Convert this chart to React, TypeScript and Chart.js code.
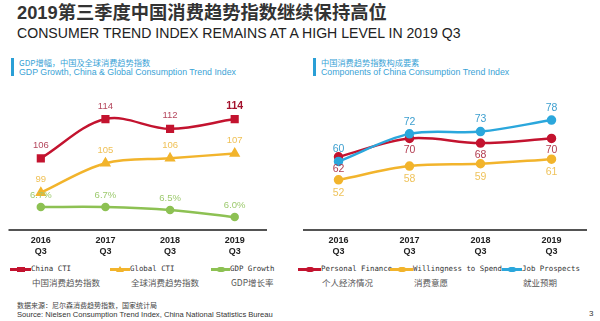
import React, { useEffect, useRef } from "react";
import { Chart, registerables } from "chart.js";
Chart.register(...registerables);

// ---------- data ----------
const quarters = [["2016", "Q3"], ["2017", "Q3"], ["2018", "Q3"], ["2019", "Q3"]];
const chinaCTI = [106, 114, 112, 114];
const globalCTI = [99, 105, 106, 107];
const gdpGrowth = [6.7, 6.7, 6.5, 6.0];
const personalFinance = [62, 70, 68, 70];
const willingnessToSpend = [52, 58, 59, 61];
const jobProspects = [60, 72, 73, 78];

const FONT = '"Liberation Sans", Arial, "Noto Sans CJK SC", sans-serif';
const MONO = '"DejaVu Sans Mono", "Liberation Mono", "Noto Sans CJK SC", monospace';

const RED = "#c3132f";
const YELLOW = "#f2b42c";
const GREEN = "#8dc153";
const BLUE = "#2ba7dc";

const labelPlugin = {
  id: "pointLabels",
  afterDatasetsDraw(chart: any) {
    const ctx = chart.ctx;
    chart.data.datasets.forEach((ds: any, i: number) => {
      const meta = chart.getDatasetMeta(i);
      if (!ds.lbl) return;
      const lab = ds.lbl;
      meta.data.forEach((pt: any, j: number) => {
        const v = ds.data[j];
        const text = lab.pct ? v.toFixed(1) + "%" : String(v);
        const bold = lab.boldLast && j === ds.data.length - 1;
        ctx.save();
        ctx.font = `${bold ? "bold " : ""}${bold ? lab.size + 1 : lab.size}px ${FONT}`;
        ctx.fillStyle = bold ? lab.boldColor : lab.color;
        ctx.textAlign = "center";
        ctx.textBaseline = "middle";
        ctx.fillText(text, pt.x, pt.y + lab.dy);
        ctx.restore();
      });
    });
  },
  afterDraw(chart: any) {
    const { ctx, chartArea } = chart;
    ctx.save();
    ctx.strokeStyle = "#1a1a1a";
    ctx.lineWidth = 1.5;
    ctx.beginPath();
    ctx.moveTo(chartArea.left, chartArea.bottom);
    ctx.lineTo(chartArea.right, chartArea.bottom);
    ctx.stroke();
    ctx.restore();
  },
};

function xScale() {
  return {
    type: "category",
    offset: true,
    grid: { display: false, drawTicks: false },
    border: { display: false },
    ticks: {
      color: "#222",
      font: { size: 9, weight: "bold", family: FONT, lineHeight: 1.2 },
      padding: 5,
      maxRotation: 0,
      autoSkip: false,
    },
    afterFit: (s: any) => {
      s.height = 30;
    },
  };
}

function leftConfig(): any {
  return {
    type: "line",
    data: {
      labels: quarters,
      datasets: [
        {
          data: chinaCTI,
          yAxisID: "y",
          borderColor: RED,
          backgroundColor: RED,
          borderWidth: 2.5,
          tension: 0.35,
          pointStyle: "rect",
          pointRadius: 4,
          order: 0,
          lbl: { dy: -13, size: 9.5, color: "#b4465c", boldLast: true, boldColor: "#a3122c" },
        },
        {
          data: globalCTI,
          yAxisID: "y",
          borderColor: YELLOW,
          backgroundColor: YELLOW,
          borderWidth: 2.5,
          tension: 0.35,
          pointStyle: "triangle",
          pointRadius: 4,
          order: 1,
          lbl: { dy: -13, size: 9.5, color: "#efc157" },
        },
        {
          data: gdpGrowth,
          yAxisID: "y1",
          borderColor: GREEN,
          backgroundColor: GREEN,
          borderWidth: 2.5,
          tension: 0.35,
          pointStyle: "circle",
          pointRadius: 3,
          order: 2,
          lbl: { dy: -12, size: 9.5, color: "#9dca6e", pct: true },
        },
      ],
    },
    options: {
      responsive: false,
      animation: false,
      layout: { padding: { top: 10, left: 8.5, right: 13, bottom: 0 } },
      scales: {
        x: xScale(),
        y: { display: false, min: 91.4, max: 118.9 },
        y1: { display: false, min: 5.094, max: 14.53 },
      },
      plugins: { legend: { display: false }, tooltip: { enabled: false } },
    },
    plugins: [labelPlugin],
  };
}

function rightConfig(): any {
  return {
    type: "line",
    data: {
      labels: quarters,
      datasets: [
        {
          data: jobProspects,
          borderColor: BLUE,
          backgroundColor: BLUE,
          borderWidth: 2.5,
          tension: 0.35,
          pointStyle: "circle",
          pointRadius: 3.5,
          order: 0,
          lbl: { dy: -12, size: 10.5, color: "#3d9fcf" },
        },
        {
          data: personalFinance,
          borderColor: RED,
          backgroundColor: RED,
          borderWidth: 2.5,
          tension: 0.35,
          pointStyle: "circle",
          pointRadius: 3.5,
          order: 1,
          lbl: { dy: 12, size: 10.5, color: "#b23c50" },
        },
        {
          data: willingnessToSpend,
          borderColor: YELLOW,
          backgroundColor: YELLOW,
          borderWidth: 2.5,
          tension: 0.35,
          pointStyle: "circle",
          pointRadius: 3.5,
          order: 2,
          lbl: { dy: 13, size: 10.5, color: "#efc35c" },
        },
      ],
    },
    options: {
      responsive: false,
      animation: false,
      layout: { padding: { top: 10, left: 8, right: 8, bottom: 0 } },
      scales: {
        x: xScale(),
        y: { display: false, min: 30.2, max: 88.9 },
      },
      plugins: { legend: { display: false }, tooltip: { enabled: false } },
    },
    plugins: [labelPlugin],
  };
}

function ChartBox({ make, left, top, width, height }: any) {
  const ref = useRef<HTMLCanvasElement | null>(null);
  useEffect(() => {
    const chart = new Chart(ref.current as HTMLCanvasElement, make());
    return () => chart.destroy();
  }, []);
  return (
    <canvas
      ref={ref}
      width={width}
      height={height}
      style={{ position: "absolute", left, top, width, height }}
    />
  );
}

function LegendItem({ x, textX, y, color, shape, en, zh }: any) {
  const w = textX - x;
  return (
    <>
      <div style={{ position: "absolute", left: x, top: y - 2, width: w, height: 4 }}>
        <div style={{ position: "absolute", left: 0, top: 0.5, width: w, height: 3, background: color }} />
        <div
          style={
            shape === "triangle"
              ? {
                  position: "absolute",
                  left: w / 2 - 4,
                  top: -1.5,
                  width: 0,
                  height: 0,
                  borderLeft: "4px solid transparent",
                  borderRight: "4px solid transparent",
                  borderBottom: `6px solid ${color}`,
                }
              : {
                  position: "absolute",
                  left: w / 2 - 4,
                  top: -0.5,
                  width: 8,
                  height: 5,
                  background: color,
                  borderRadius: shape === "circle" ? 3 : 0,
                }
          }
        />
      </div>
      <div
        style={{
          position: "absolute",
          left: textX,
          top: y - 5,
          fontFamily: MONO,
          fontSize: 7.4,
          lineHeight: "10px",
          color: "#333",
          whiteSpace: "nowrap",
        }}
      >
        {en}
      </div>
      <div
        style={{
          position: "absolute",
          left: textX + 1,
          top: y + 8,
          fontFamily: '"Noto Sans CJK SC", sans-serif',
          fontSize: 8.5,
          lineHeight: "10px",
          color: "#555",
          whiteSpace: "nowrap",
        }}
      >
        {zh}
      </div>
    </>
  );
}

function SectionHeader({ x, zh, en }: any) {
  return (
    <>
      <div style={{ position: "absolute", left: x, top: 58, width: 3, height: 18, background: "#2a9fd6" }} />
      <div
        style={{
          position: "absolute",
          left: x + 8,
          top: 57,
          fontFamily: '"Noto Sans CJK SC", sans-serif',
          fontSize: 8.2,
          lineHeight: "10px",
          color: "#3aa3d6",
          whiteSpace: "nowrap",
        }}
      >
        {zh}
      </div>
      <div
        style={{
          position: "absolute",
          left: x + 8,
          top: 67,
          fontFamily: FONT,
          fontSize: 8.8,
          lineHeight: "10px",
          color: "#3aa3d6",
          whiteSpace: "nowrap",
        }}
      >
        {en}
      </div>
    </>
  );
}

export default function App() {
  return (
    <div
      style={{
        position: "absolute",
        left: 0,
        top: 0,
        width: 600,
        height: 321,
        background: "#fff",
        overflow: "hidden",
        fontFamily: FONT,
      }}
    >
      <div
        style={{
          position: "absolute",
          left: 17,
          top: 2,
          fontSize: 18.3,
          lineHeight: "22px",
          fontWeight: "bold",
          color: "#333",
          fontFamily: '"Liberation Sans", "Noto Sans CJK SC", sans-serif',
          whiteSpace: "nowrap",
        }}
      >
        2019第三季度中国消费趋势指数继续保持高位
      </div>
      <div
        style={{
          position: "absolute",
          left: 17,
          top: 26,
          fontSize: 14.1,
          lineHeight: "15px",
          color: "#222",
          whiteSpace: "nowrap",
        }}
      >
        CONSUMER TREND INDEX REMAINS AT A HIGH LEVEL IN 2019 Q3
      </div>

      <SectionHeader x={11} zh="GDP增幅，中国及全球消费趋势指数" en="GDP Growth, China & Global Consumption Trend Index" />
      <SectionHeader x={313} zh="中国消费趋势指数构成要素" en="Components of China Consumption Trend Index" />

      <ChartBox make={leftConfig} left={0} top={85} width={280} height={175} />
      <ChartBox make={rightConfig} left={295} top={85} width={300} height={175} />

      <LegendItem x={10} textX={31} y={269} color={RED} shape="rect" en="China CTI" zh="中国消费趋势指数" />
      <LegendItem x={110} textX={130} y={269} color={YELLOW} shape="triangle" en="Global CTI" zh="全球消费趋势指数" />
      <LegendItem x={211} textX={230} y={269} color={GREEN} shape="circle" en="GDP Growth" zh="GDP增长率" />
      <LegendItem x={298} textX={321} y={269} color={RED} shape="circle" en="Personal Finance" zh="个人经济情况" />
      <LegendItem x={390} textX={413} y={269} color={YELLOW} shape="circle" en="Willingness to Spend" zh="消费意愿" />
      <LegendItem x={502} textX={522} y={269} color={BLUE} shape="circle" en="Job Prospects" zh="就业预期" />

      <div
        style={{
          position: "absolute",
          left: 17,
          top: 301,
          fontSize: 7,
          lineHeight: "9px",
          color: "#444",
          fontFamily: '"Noto Sans CJK SC", sans-serif',
          whiteSpace: "nowrap",
        }}
      >
        数据来源：尼尔森消费趋势指数，国家统计局
      </div>
      <div
        style={{
          position: "absolute",
          left: 17,
          top: 310,
          fontSize: 7.6,
          lineHeight: "10px",
          color: "#333",
          whiteSpace: "nowrap",
        }}
      >
        Source: Nielsen Consumption Trend Index, China National Statistics Bureau
      </div>
      <div
        style={{
          position: "absolute",
          left: 589,
          top: 309,
          fontSize: 8,
          lineHeight: "10px",
          color: "#333",
        }}
      >
        3
      </div>
    </div>
  );
}
